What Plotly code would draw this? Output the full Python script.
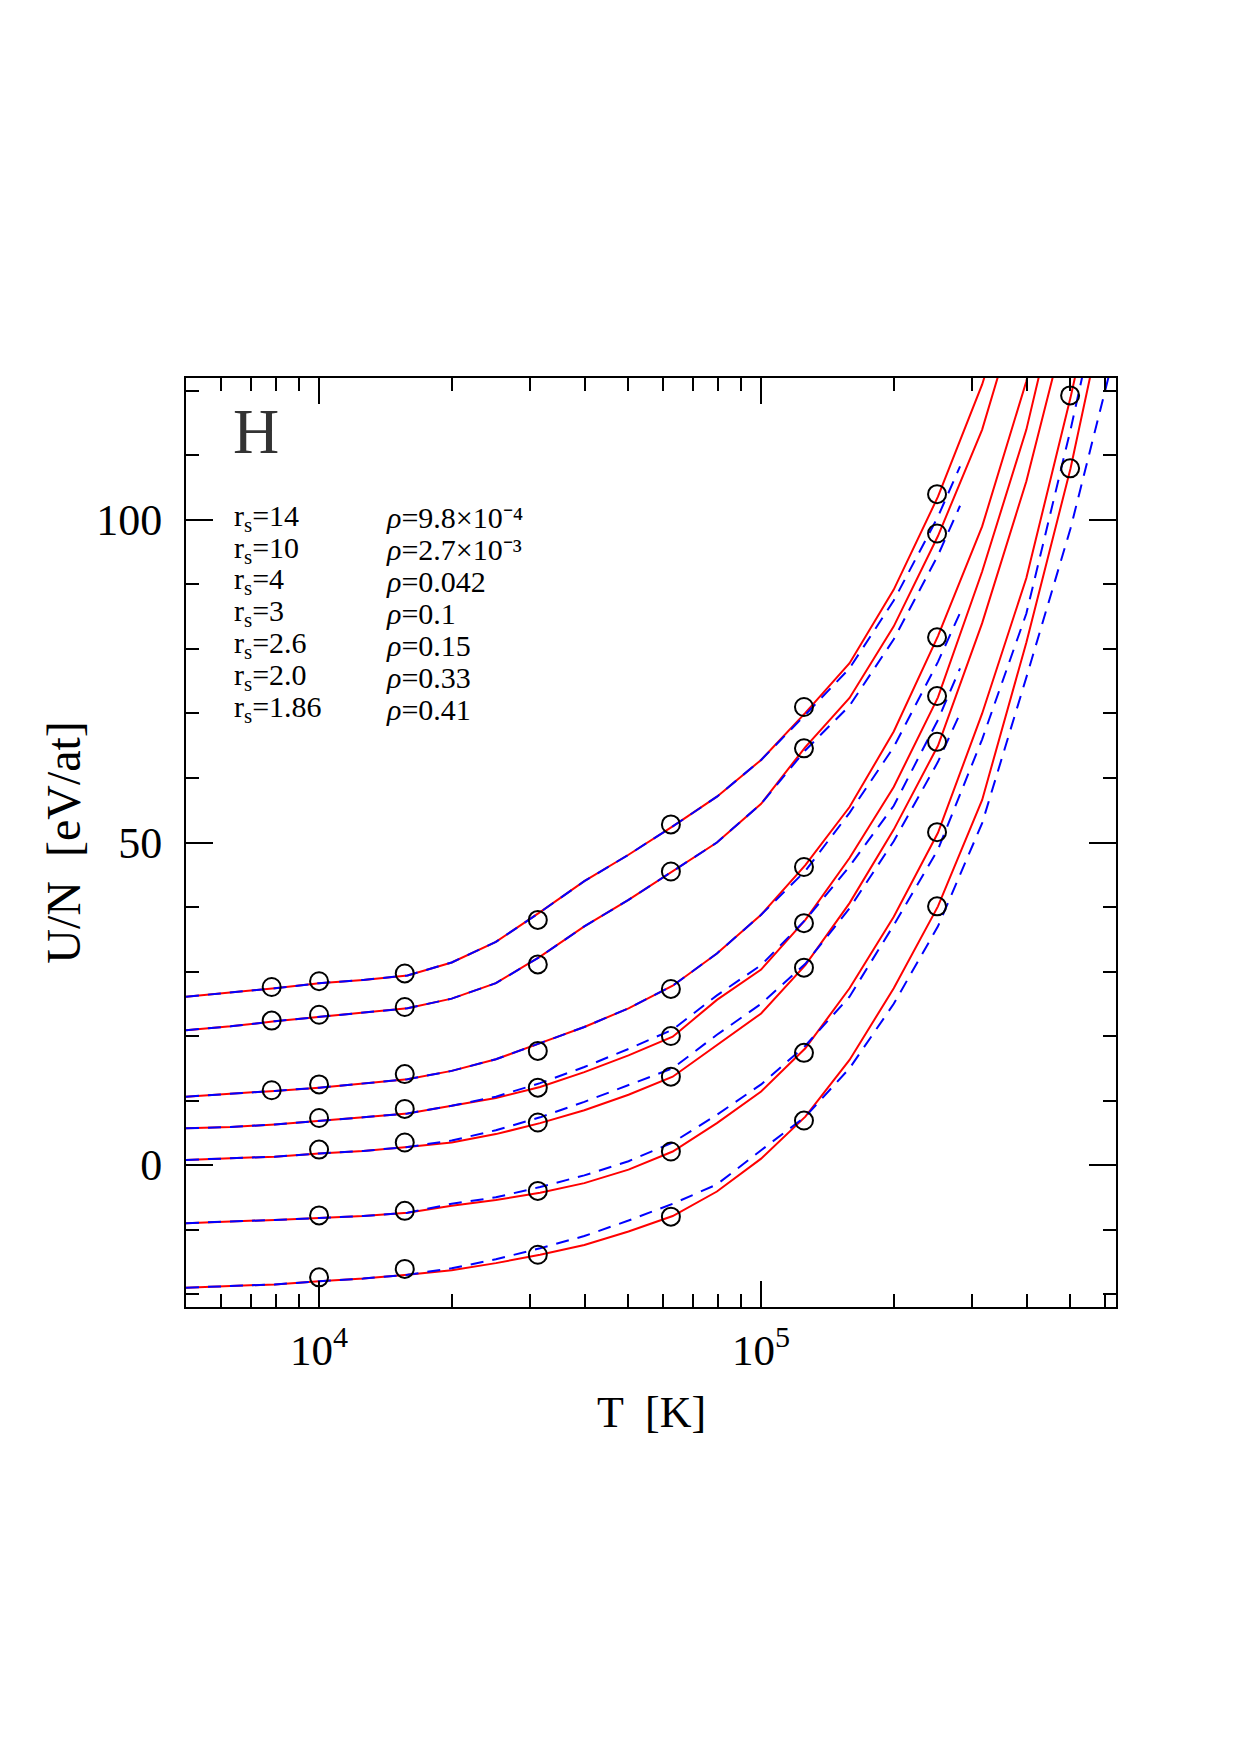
import math
import plotly.graph_objects as go

# ---------------- data ----------------
# temperature grid of the model curves (K)
T_grid = [5000, 6310, 7943, 10000, 12589, 15849, 19953, 25119, 31623, 39811, 50119,
          63096, 79433, 100000, 125893, 158489, 199526, 251189, 316228, 398107, 501187, 630957]
# shorter grid for the dashed curves that stop near 2.8e5 K
T_blue_short = [5000, 6310, 7943, 10000, 12589, 15849, 19953, 25119, 31623, 39811, 50119,
                63096, 79433, 100000, 125893, 158489, 199526, 251189, 281838]
# temperatures of the simulation points (K)
T_pts = [7812.5, 10000, 15625, 31250, 62500, 125000, 250000, 500000]

rs_labels = ["14", "10", "4", "3", "2.6", "2.0", "1.86"]
rho_labels = ["9.8×10⁻⁴", "2.7×10⁻³", "0.042", "0.1", "0.15", "0.33", "0.41"]

# red solid curves (U/N in eV/at) on T_grid
red_rs14 = [26.1, 26.7, 27.4, 28.2, 28.7, 29.4, 31.4, 34.6, 39.2, 44.0, 48.1, 52.5, 57.1, 62.8,
            70.1, 77.8, 89.2, 103.6, 121.0, 143.0, 170.0, 200.0]
red_rs10 = [20.9, 21.5, 22.3, 23.0, 23.7, 24.3, 25.8, 28.2, 32.3, 37.0, 41.1, 45.5, 50.0, 56.0,
            64.8, 72.4, 83.5, 97.5, 114.0, 137.0, 163.0, 192.0]
red_rs4 = [10.6, 11.0, 11.5, 12.0, 12.7, 13.3, 14.6, 16.4, 18.9, 21.4, 24.3, 27.8, 32.8, 38.8,
           46.5, 55.5, 67.2, 82.0, 99.0, 121.5, 150.0, 180.0]
red_rs3 = [5.7, 5.9, 6.3, 6.8, 7.4, 8.0, 9.2, 10.4, 12.1, 14.4, 17.0, 19.9, 25.6, 30.3,
           38.0, 47.6, 58.6, 72.5, 92.0, 114.0, 143.0, 175.0]
red_rs26 = [0.8, 1.0, 1.3, 1.8, 2.2, 2.8, 3.5, 4.8, 6.5, 8.5, 10.9, 13.7, 18.6, 23.5,
            31.0, 40.6, 52.0, 65.0, 84.0, 106.0, 133.0, 165.0]
red_rs20 = [-9.0, -8.8, -8.5, -8.2, -7.9, -7.4, -6.3, -5.4, -4.3, -2.8, -0.7, 2.1, 6.5, 11.4,
            18.1, 27.4, 38.5, 51.5, 70.0, 91.0, 119.0, 150.0]
red_rs186 = [-19.0, -18.8, -18.5, -18.0, -17.6, -17.0, -16.3, -15.2, -13.9, -12.4, -10.3, -7.9, -4.1, 1.0,
             7.5, 16.3, 27.4, 40.1, 56.6, 81.0, 108.0, 140.0]

# blue dashed curves
blue_rs14 = [26.1, 26.7, 27.4, 28.2, 28.7, 29.4, 31.4, 34.6, 39.2, 44.0, 48.1, 52.5, 57.1, 62.8,
             69.8, 77.0, 87.5, 100.5, 108.3]
blue_rs10 = [20.9, 21.5, 22.3, 23.0, 23.7, 24.3, 25.8, 28.2, 32.3, 37.0, 41.1, 45.5, 50.0, 56.0,
             64.3, 71.2, 81.5, 94.5, 102.2]
blue_rs4 = [10.6, 11.0, 11.5, 12.0, 12.7, 13.3, 14.6, 16.4, 18.9, 21.4, 24.3, 27.8, 32.8, 38.8,
            45.6, 54.6, 64.8, 78.0, 85.6]
blue_rs3 = [5.7, 5.9, 6.3, 6.8, 7.4, 8.0, 9.2, 10.6, 12.7, 15.2, 18.0, 21.0, 26.3, 31.0,
            38.0, 46.3, 55.7, 69.0, 77.0]
blue_rs26 = [0.8, 1.0, 1.3, 1.8, 2.2, 2.8, 3.8, 5.4, 7.4, 9.8, 12.4, 15.0, 20.2, 25.0,
             31.2, 39.8, 50.2, 62.5, 70.0]
blue_rs20 = [-9.0, -8.8, -8.5, -8.2, -7.9, -7.4, -6.0, -5.0, -3.4, -1.6, 0.6, 3.5, 7.8, 12.5,
             18.5, 26.1, 37.2, 48.9, 66.0, 85.5, 114.0, 145.0]
blue_rs186 = [-19.0, -18.8, -18.5, -18.0, -17.6, -17.0, -16.0, -14.6, -12.9, -11.0, -8.6, -6.0, -3.0, 2.3,
              7.5, 15.0, 25.0, 37.0, 53.0, 75.6, 98.7, 126.0]

# simulation points (None = no point)
pts_rs14 = [27.6, 28.5, 29.7, 38.0, 52.8, 71.0, 104.0, None]
pts_rs10 = [22.4, 23.3, 24.5, 31.1, 45.5, 64.6, 97.9, None]
pts_rs4 = [11.6, 12.5, 14.1, 17.7, 27.3, 46.2, 81.8, None]
pts_rs3 = [None, 7.3, 8.7, 12.0, 20.0, 37.5, 72.7, None]
pts_rs26 = [None, 2.4, 3.5, 6.6, 13.7, 30.6, 65.6, None]
pts_rs20 = [None, -7.8, -7.1, -4.0, 2.1, 17.4, 51.6, 119.3]
pts_rs186 = [None, -17.4, -16.1, -13.9, -8.0, 6.9, 40.1, 108.0]

x_major = [1e4, 1e5]
x_major_labels = ["10<sup>4</sup>", "10<sup>5</sup>"]
x_minor = [6000, 7000, 8000, 9000, 20000, 30000, 40000, 50000, 60000, 70000, 80000, 90000,
           200000, 300000, 400000, 500000, 600000]
y_major = [0, 50, 100]

# ---------------- figure ----------------
FONT = "Liberation Serif"
fig = go.Figure()

red_curves = [red_rs14, red_rs10, red_rs4, red_rs3, red_rs26, red_rs20, red_rs186]
blue_curves = [blue_rs14, blue_rs10, blue_rs4, blue_rs3, blue_rs26, blue_rs20, blue_rs186]
pt_sets = [pts_rs14, pts_rs10, pts_rs4, pts_rs3, pts_rs26, pts_rs20, pts_rs186]

for y in red_curves:
    fig.add_trace(go.Scatter(x=T_grid, y=y, mode="lines",
                             line=dict(color="#ff0000", width=2), showlegend=False))
for y in blue_curves:
    xs = T_grid if len(y) == len(T_grid) else T_blue_short
    fig.add_trace(go.Scatter(x=xs, y=y, mode="lines",
                             line=dict(color="#0000ff", width=2, dash="13px,9px"), showlegend=False))
for p in pt_sets:
    xs = [t for t, v in zip(T_pts, p) if v is not None]
    ys = [v for v in p if v is not None]
    fig.add_trace(go.Scatter(x=xs, y=ys, mode="markers",
                             marker=dict(symbol="circle-open", size=18, color="black",
                                         line=dict(color="black", width=2)),
                             showlegend=False))

fig.update_layout(
    width=1240, height=1755,
    margin=dict(l=186, r=124, t=378, b=448, pad=0),
    paper_bgcolor="white", plot_bgcolor="white",
    font=dict(family=FONT, color="black"),
    xaxis=dict(type="log", range=[math.log10(5000), math.log10(6.35e5)],
               tickmode="array", tickvals=x_major, ticktext=x_major_labels,
               ticks="inside", ticklen=26, tickwidth=1.5, tickcolor="black",
               showline=True, linecolor="black", linewidth=2, mirror="ticks",
               showgrid=False, zeroline=False,
               tickfont=dict(family=FONT, size=43, color="black"),
               ticklabelstandoff=4,
               minor=dict(tickmode="array", tickvals=x_minor, ticks="inside", ticklen=13,
                          tickwidth=1.5, tickcolor="black", showgrid=False)),
    yaxis=dict(range=[-22, 122], tickmode="array", tickvals=y_major,
               ticks="inside", ticklen=27, tickwidth=1.5, tickcolor="black",
               showline=True, linecolor="black", linewidth=2, mirror="ticks",
               showgrid=False, zeroline=False,
               tickfont=dict(family=FONT, size=44, color="black"),
               ticklabelstandoff=13,
               minor=dict(dtick=10, tick0=0, ticks="inside", ticklen=13,
                          tickwidth=1.5, tickcolor="black", showgrid=False)),
)

anns = []
# axis titles
anns.append(dict(text="T  [K]", xref="paper", yref="paper", x=0.5, y=-0.114,
                 xanchor="center", yanchor="middle", showarrow=False,
                 font=dict(family=FONT, size=44, color="black")))
anns.append(dict(text="U/N  [eV/at]", xref="paper", yref="paper", x=-0.132, y=0.5,
                 xanchor="center", yanchor="middle", textangle=-90, showarrow=False,
                 font=dict(family=FONT, size=48, color="black")))
# element label
anns.append(dict(text="H", xref="paper", yref="paper", x=0.048, y=0.942,
                 xanchor="left", yanchor="middle", showarrow=False,
                 font=dict(family=FONT, size=64, color="#333333")))
# density labels
for i, (rs, rho) in enumerate(zip(rs_labels, rho_labels)):
    yc = 0.8497 - i * 0.03434
    anns.append(dict(text="r<sub>s</sub>=" + rs, xref="paper", yref="paper", x=0.0495, y=yc,
                     xanchor="left", yanchor="middle", showarrow=False,
                     font=dict(family=FONT, size=30, color="black")))
    anns.append(dict(text="<i>ρ</i>=" + rho, xref="paper", yref="paper", x=0.213, y=yc,
                     xanchor="left", yanchor="middle", showarrow=False,
                     font=dict(family=FONT, size=30, color="black")))
fig.update_layout(annotations=anns)

fig.write_html("out.html")
